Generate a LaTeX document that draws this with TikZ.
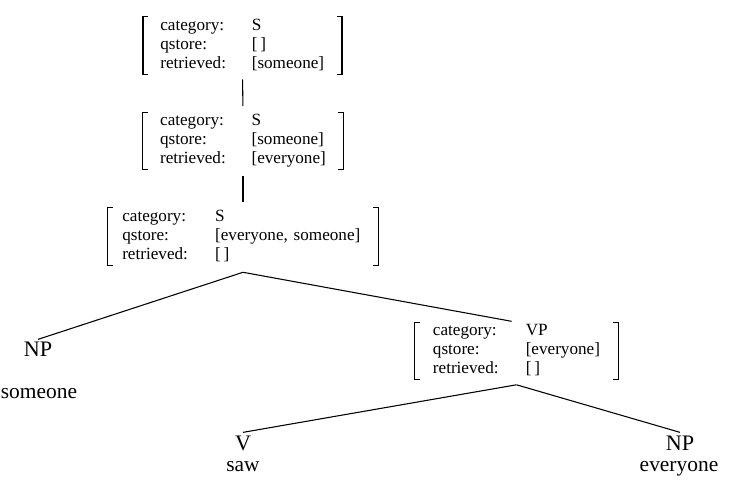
\documentclass[tikz,border=0pt]{standalone}
\usepackage{fontspec}
\setmainfont{Liberation Serif}
\begin{document}
\begin{tikzpicture}[x=0.7pt, y=-0.7pt,
  avm/.style={inner xsep=12pt, inner ysep=0pt, minimum height=39pt, align=left,
    font=\fontsize{12}{13.3}\selectfont},
  cat/.style={inner sep=2pt, anchor=base, font=\fontsize{15.5}{17}\selectfont},
  word/.style={inner sep=2pt, anchor=base, font=\fontsize{15}{17}\selectfont},
  bracket/.style={line width=0.85pt},
  branch/.style={line width=0.75pt}]
  \useasboundingbox (0,0) rectangle (734,484);
  % feature structures
  \node[avm, text width=115pt] (top) at (242.5,45.5) {\begin{tabular}{@{}p{64pt}@{}l@{}}
      category: & S\\ qstore: & [\,]\\ retrieved: & [someone]\end{tabular}};
  \node[avm, text width=116pt] (mid) at (243,141) {\begin{tabular}{@{}p{64pt}@{}l@{}}
      category: & S\\ qstore: & [someone]\\ retrieved: & [everyone]\end{tabular}};
  \node[avm, inner xsep=10pt, text width=169pt] (low) at (243,236.5) {\begin{tabular}{@{}p{65pt}@{}l@{}}
      category: & S\\ qstore: & [everyone, someone]\\ retrieved: & [\,]\end{tabular}};
  \node[avm, inner xsep=12.6pt, text width=117pt] (vp) at (516.5,351) {\begin{tabular}{@{}p{65pt}@{}l@{}}
      category: & VP\\ qstore: & [everyone]\\ retrieved: & [\,]\end{tabular}};
  \foreach \n in {top,mid,low,vp} {
    \draw[bracket] ([xshift=3.5pt]\n.north west) -- (\n.north west) -- (\n.south west) -- ([xshift=3.5pt]\n.south west);
    \draw[bracket] ([xshift=-3.5pt]\n.north east) -- (\n.north east) -- (\n.south east) -- ([xshift=-3.5pt]\n.south east);
  }
  % leaves
  \node[cat] (np1) at (38,357) {NP};
  \node[word] (someone) at (39,398) {someone};
  \node[cat] (v) at (243,450) {V};
  \node[word] (saw) at (243,472) {saw};
  \node[cat] (np2) at (680,450) {NP};
  \node[word] (everyone) at (679,472) {everyone};
  % branches
  \draw[branch, shorten <=3.5pt, shorten >=4.2pt] (top.south) -- (mid.north);
  \draw[branch, shorten <=4.2pt, shorten >=4.2pt] (mid.south) -- (low.north);
  \coordinate (lowfoot) at ([yshift=-4.9pt]low.south);
  \draw[branch] (lowfoot) -- (np1.north);
  \draw[branch, shorten >=3.5pt] (lowfoot) -- (vp.north);
  \coordinate (vpfoot) at ([yshift=-3.5pt]vp.south);
  \draw[branch] (vpfoot) -- (v.north);
  \draw[branch] (vpfoot) -- (np2.north);
\end{tikzpicture}
\end{document}
